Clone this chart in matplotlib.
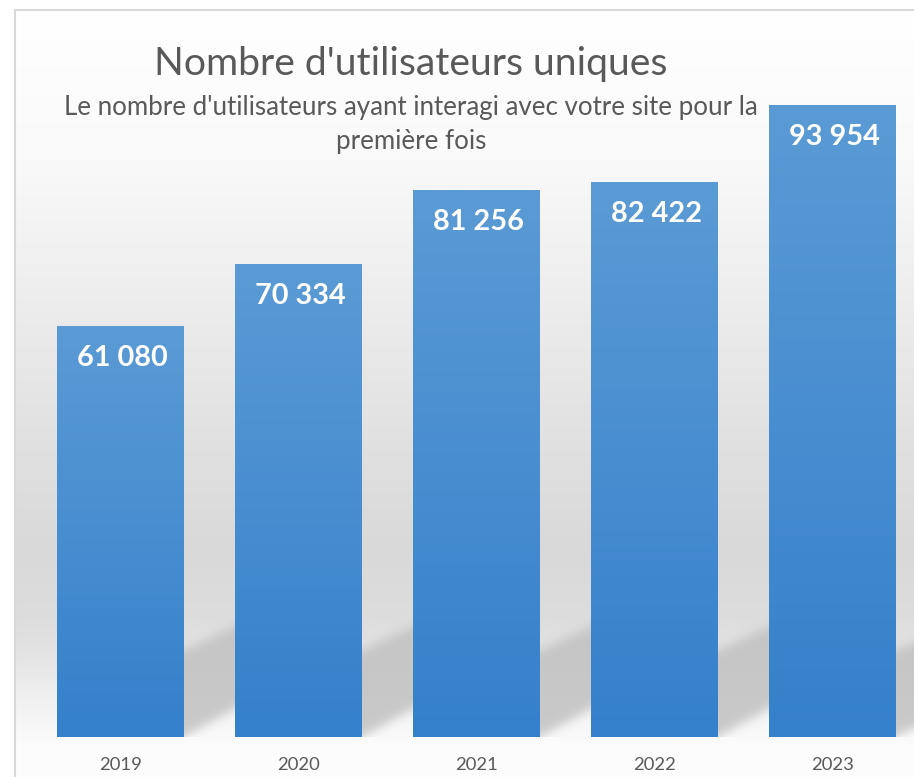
import numpy as np
import matplotlib
matplotlib.use("Agg")
import matplotlib.pyplot as plt
from matplotlib.path import Path
from matplotlib.lines import Line2D

# ---- data ----
years = ["2019", "2020", "2021", "2022", "2023"]
users = [61080, 70334, 81256, 82422, 93954]
labels = ["61 080", "70 334", "81 256", "82 422", "93 954"]
title = "Nombre d'utilisateurs uniques"
subtitle1 = "Le nombre d'utilisateurs ayant interagi avec votre site pour la"
subtitle2 = "première fois"

W, H = 914, 777
plt.rcParams['font.family'] = ['Lato', 'DejaVu Sans']
fig = plt.figure(figsize=(W / 100, H / 100), dpi=100)
fig.patch.set_facecolor("white")

# main axes
ax = fig.add_axes([31.5 / W, 40 / H, 890 / W, 672.8 / H])
ax.set_facecolor("none")
ax.set_xlim(-0.5, 4.5)
ax.set_ylim(0, 100000)
ax.set_zorder(2)
for s in ax.spines.values():
    s.set_visible(False)
ax.set_yticks([])
x = np.arange(len(years))
bw = 0.713
bars = ax.bar(x, users, width=bw, color="#4a8fd2", zorder=3)

# gradient fill of each bar
top_c = np.array([91, 155, 213]) / 255
bot_c = np.array([53, 128, 203]) / 255
grad = np.linspace(0, 1, 256)[:, None]
gimg = (top_c[None, None, :] * (1 - grad[:, :, None]) + bot_c[None, None, :] * grad[:, :, None])
for b in bars:
    x0 = b.get_x(); x1 = x0 + b.get_width(); h = b.get_height()
    im = ax.imshow(gimg, extent=(x0, x1, 0, h), aspect="auto", origin="upper",
                   zorder=4, interpolation="bilinear")
    im.set_clip_path(b)
ax.set_xlim(-0.5, 4.5)
ax.set_ylim(0, 100000)

ax.set_xticks(x)
ax.set_xticklabels(years)
ax.tick_params(axis="x", length=0, pad=14.4, colors="#595959")

renderer = fig.canvas.get_renderer()

def fit(t, target):
    w = t.get_window_extent(renderer).width
    t.set_fontsize(t.get_fontsize() * target / w)
    return t.get_fontsize()

# year label size
for tl in ax.get_xticklabels():
    tl.set_fontsize(15)
    tl.set_verticalalignment("top")
ys = fit(ax.get_xticklabels()[0], 43)
for tl in ax.get_xticklabels():
    tl.set_fontsize(ys)

# value labels
vts = []
for xi, v, lab in zip(x, users, labels):
    t = ax.annotate(lab, (xi, v), xytext=(2, -32), textcoords="offset pixels",
                    ha="center", va="center", color="white", fontsize=24,
                    fontweight="bold", zorder=6)
    vts.append(t)
vs = fit(vts[0], 91)
for t in vts:
    t.set_fontsize(vs)

# titles
tt = fig.text(411 / W, 1 - 64 / H, title, ha="center", va="center",
              fontsize=28, color="#595959", zorder=5)
fit(tt, 513)
st1 = fig.text(411 / W, 1 - 108 / H, subtitle1, ha="center", va="center",
               fontsize=17, color="#595959", zorder=5)
ss = fit(st1, 693)
st2 = fig.text(411 / W, 1 - 142 / H, subtitle2, ha="center", va="center",
               fontsize=ss, color="#595959", zorder=5)

# ---- background with gradient and soft shadows ----
rows = np.arange(H)
stops_r = [0, 10, 150, 300, 450, 550, 620, 660, 700, 737, 745, 777]
stops_v = [255, 255, 250, 237, 224, 217, 221, 229, 241, 250, 252, 252]
prof = np.interp(rows, stops_r, stops_v)
bg = np.repeat(prof[:, None], W, axis=1)

# shadow mask computed from bar pixel positions
yy, xx = np.mgrid[0:H, 0:W]
pts = np.column_stack([xx.ravel() + 0.5, yy.ravel() + 0.5])
mask = np.zeros(H * W)
ybase = None
for b in bars:
    xr_disp, yb_disp = ax.transData.transform((b.get_x() + b.get_width(), 0))
    xr = xr_disp
    yb = H - yb_disp
    ybase = yb
    xa, xb = xr - 40, xr + 80
    poly = [(xa, yb - 87 + 0.46 * 40), (xb, yb - 87 - 0.46 * 80),
            (xb, yb - 0.56 * 80), (xa, yb + 0.56 * 40)]
    p = Path(poly)
    mask = np.maximum(mask, p.contains_points(pts).astype(float))
mask = mask.reshape(H, W)

def blur(a, sigma):
    r = int(3 * sigma)
    k = np.exp(-0.5 * (np.arange(-r, r + 1) / sigma) ** 2)
    k /= k.sum()
    a = np.apply_along_axis(lambda m: np.convolve(np.pad(m, r, mode="edge"), k, mode="valid"), 1, a)
    a = np.apply_along_axis(lambda m: np.convolve(np.pad(m, r, mode="edge"), k, mode="valid"), 0, a)
    return a

mask = blur(mask, 5)
mask[int(round(ybase)):, :] = 0
bg = bg * (1 - 0.85 * mask) + 193 * 0.85 * mask

# outside border white
bg[:10, :] = 255
bg[:, :15] = 255
img = np.dstack([bg, bg, bg]) / 255.0

bgax = fig.add_axes([0, 0, 1, 1])
bgax.set_zorder(0)
bgax.imshow(img, extent=(0, W, H, 0), aspect="auto", interpolation="nearest")
bgax.set_xlim(0, W); bgax.set_ylim(H, 0)
bgax.axis("off")

# border lines
fig.add_artist(Line2D([15 / W, 1], [1 - 10 / H, 1 - 10 / H], color="#d9d9d9",
                      lw=1.5, transform=fig.transFigure, zorder=1))
fig.add_artist(Line2D([15 / W, 15 / W], [0, 1 - 10 / H], color="#d9d9d9",
                      lw=1.5, transform=fig.transFigure, zorder=1))

fig.savefig("out.png", dpi=100)
